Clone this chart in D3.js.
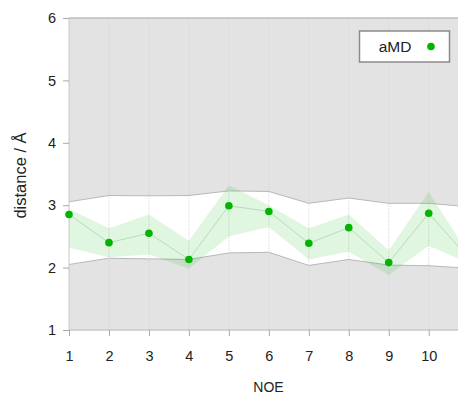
<!DOCTYPE html>
<html><head><meta charset="utf-8">
<script src="https://cdn.jsdelivr.net/npm/d3@7"></script>
<style>html,body{margin:0;padding:0;background:#fff;overflow:hidden}</style>
</head><body>
<script>
const noe = [1,2,3,4,5,6,7,8,9,10,11];
const amd = [2.85, 2.40, 2.55, 2.13, 2.99, 2.90, 2.39, 2.64, 2.08, 2.87, 2.15];
const amdLow = [2.32, 2.165, 2.21, 1.98, 2.50, 2.65, 2.13, 2.255, 1.88, 2.35, 2.07];
const amdHigh = [2.94, 2.63, 2.85, 2.43, 3.32, 3.00, 2.63, 2.85, 2.28, 3.21, 2.22];
const boundLow = [2.05, 2.15, 2.14, 2.13, 2.235, 2.245, 2.035, 2.13, 2.04, 2.03, 1.99];
const boundHigh = [3.055, 3.155, 3.15, 3.155, 3.23, 3.22, 3.03, 3.115, 3.03, 3.03, 2.975];
const xTicks = [1,2,3,4,5,6,7,8,9,10];
const yTicks = [1,2,3,4,5,6];
const seriesName = "aMD";

const W = 458, H = 394;
const svg = d3.select("body").append("svg").attr("width", W).attr("height", H);
const x = d3.scaleLinear().domain([1, 10]).range([69, 428.7]);
const y = d3.scaleLinear().domain([1, 6]).range([330, 18]);
const xMax = 11.8;
const font = "'Liberation Sans', Arial, Helvetica, sans-serif";

svg.append("clipPath").attr("id","plot").append("rect")
  .attr("x", x(1)).attr("y", y(6)).attr("width", x(xMax)-x(1)).attr("height", y(1)-y(6));
const g = svg.append("g").attr("clip-path","url(#plot)");

// background
g.append("rect").attr("x", x(1)).attr("y", y(6)).attr("width", x(xMax)-x(1)).attr("height", y(1)-y(6)).attr("fill","#e3e3e3");

const idx = d3.range(noe.length);
// white allowed band
g.append("path").datum(idx)
  .attr("d", d3.area().x(i=>x(noe[i])).y0(i=>y(boundLow[i])).y1(i=>y(boundHigh[i])))
  .attr("fill","#fff");
g.append("path").datum(idx).attr("d", d3.line().x(i=>x(noe[i])).y(i=>y(boundHigh[i])))
  .attr("fill","none").attr("stroke","#b8b8b8").attr("stroke-width",1);
g.append("path").datum(idx).attr("d", d3.line().x(i=>x(noe[i])).y(i=>y(boundLow[i])))
  .attr("fill","none").attr("stroke","#b8b8b8").attr("stroke-width",1);

// vertical grid
g.selectAll(".vg").data(xTicks.slice(1)).join("line")
  .attr("x1", d=>x(d)).attr("x2", d=>x(d)).attr("y1", y(6)).attr("y2", y(1))
  .attr("stroke","#d2d2d2").attr("stroke-width",1).attr("stroke-dasharray","1,1").attr("opacity",0.8);

// green band
g.append("path").datum(idx)
  .attr("d", d3.area().x(i=>x(noe[i])).y0(i=>y(amdLow[i])).y1(i=>y(amdHigh[i])))
  .attr("fill","#00b400").attr("fill-opacity",0.12);
g.append("path").datum(idx).attr("d", d3.line().x(i=>x(noe[i])).y(i=>y(amd[i])))
  .attr("fill","none").attr("stroke","#9ccf9c").attr("stroke-width",0.8).attr("opacity",0.8);

// axes lines
svg.append("line").attr("x1", x(1)).attr("x2", W).attr("y1", y(6)).attr("y2", y(6)).attr("stroke","#bcbcbc").attr("stroke-width",1.5);
svg.append("line").attr("x1", x(1)).attr("x2", W).attr("y1", y(1)).attr("y2", y(1)).attr("stroke","#c8c8c8").attr("stroke-width",1.5);
svg.append("line").attr("x1", x(1)).attr("x2", x(1)).attr("y1", y(6)).attr("y2", y(1)).attr("stroke","#c8c8c8").attr("stroke-width",1);

// y axis
const ya = svg.append("g").attr("transform",`translate(${x(1)},0)`)
  .call(d3.axisLeft(y).tickValues(yTicks).tickFormat(d3.format("d")).tickSize(6).tickPadding(7));
ya.select(".domain").remove();
ya.selectAll(".tick line").attr("stroke","#a8a8a8");
ya.selectAll(".tick text").attr("font-family",font).attr("font-size","14.5px").attr("fill","#222");

// x axis
const xa = svg.append("g").attr("transform",`translate(0,${y(1)})`)
  .call(d3.axisBottom(x).tickValues(xTicks).tickFormat(d3.format("d")).tickSize(6).tickPadding(15));
xa.select(".domain").remove();
xa.selectAll(".tick line").attr("stroke","#a8a8a8");
xa.selectAll(".tick text").attr("font-family",font).attr("font-size","14.5px").attr("fill","#222");

// points
svg.append("g").selectAll("circle").data(idx.filter(i=>x(noe[i])<W+5)).join("circle")
  .attr("cx", i=>x(noe[i])).attr("cy", i=>y(amd[i])).attr("r",3.8).attr("fill","#00b400");

// titles
svg.append("text").attr("x", 268.5).attr("y", 392).attr("text-anchor","middle")
  .attr("font-family",font).attr("font-size","14px").attr("fill","#222").text("NOE");
svg.append("text").attr("transform",`translate(26,175.5) rotate(-90)`).attr("text-anchor","middle")
  .attr("font-family",font).attr("font-size","16.5px").attr("fill","#222").text("distance / Å");

// legend
const lg = svg.append("g");
lg.append("rect").attr("x",359.5).attr("y",31).attr("width",90).attr("height",31)
  .attr("fill","#fff").attr("stroke","#8a8a8a").attr("stroke-width",1.5);
lg.append("text").attr("x",395).attr("y",52).attr("text-anchor","middle")
  .attr("font-family",font).attr("font-size","15.5px").attr("fill","#222").text(seriesName);
lg.append("circle").attr("cx",431).attr("cy",46.5).attr("r",3.8).attr("fill","#00b400");
</script>
</body></html>
